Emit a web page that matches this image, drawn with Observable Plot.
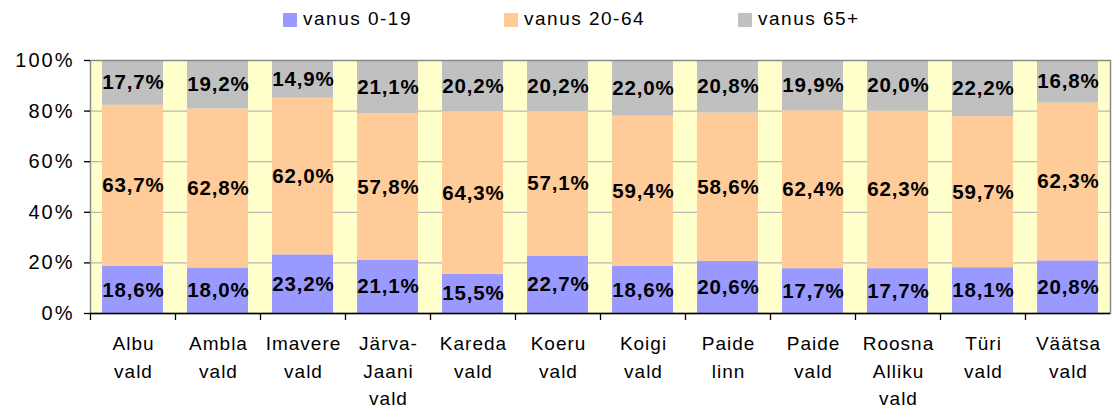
<!DOCTYPE html>
<html>
<head>
<meta charset="utf-8">
<script src="https://cdn.jsdelivr.net/npm/d3@7"></script>
<script src="https://cdn.jsdelivr.net/npm/@observablehq/plot@0.6"></script>
<style>
  html, body { margin: 0; padding: 0; background: white; }
  #wrap { position: relative; width: 1112px; height: 411px; font-family: "Liberation Sans", Arial, sans-serif; }
  #legend { position: relative; height: 38px; width: 1112px; }
  .item { position: absolute; top: 0; height: 38px; display: flex; align-items: center; font-size: 19px; letter-spacing: 1.5px; color: #000; }
  .sw { width: 14px; height: 14px; margin-right: 6px; margin-top: 2px; }
  #chart svg { display: block; }
  #chart g[aria-label="y-axis tick label"] text { letter-spacing: 2px; }
  #chart g[aria-label="x-axis tick label"] text { letter-spacing: 1px; }
  #chart g[aria-label="text"] text { letter-spacing: 0.8px; }
</style>
</head>
<body>
<div id="wrap">
  <div id="legend"></div>
  <div id="chart"></div>
</div>
<script>
const categories = ["Albu\nvald","Ambla\nvald","Imavere\nvald","Järva-\nJaani\nvald","Kareda\nvald","Koeru\nvald","Koigi\nvald","Paide\nlinn","Paide\nvald","Roosna\nAlliku\nvald","Türi\nvald","Väätsa\nvald"];
const groups = ["vanus 0-19", "vanus 20-64", "vanus 65+"];
const colors = ["#9999FF", "#FFCC99", "#C0C0C0"];
const age0_19  = [18.6, 18.0, 23.2, 21.1, 15.5, 22.7, 18.6, 20.6, 17.7, 17.7, 18.1, 20.8];
const age20_64 = [63.7, 62.8, 62.0, 57.8, 64.3, 57.1, 59.4, 58.6, 62.4, 62.3, 59.7, 62.3];
const age65    = [17.7, 19.2, 14.9, 21.1, 20.2, 20.2, 22.0, 20.8, 19.9, 20.0, 22.2, 16.8];
const yTicks = [0, 0.2, 0.4, 0.6, 0.8, 1];
const legendX = [283, 504, 738];

const series = [age0_19, age20_64, age65];
const data = [];
categories.forEach((c, i) => {
  groups.forEach((g, j) => data.push({cat: c, group: g, value: series[j][i]}));
});

// legend
const leg = document.getElementById("legend");
groups.forEach((g, j) => {
  const it = document.createElement("div");
  it.className = "item";
  it.style.left = legendX[j] + "px";
  it.innerHTML = `<div class="sw" style="background:${colors[j]}"></div><span>${g}</span>`;
  leg.appendChild(it);
});

const W = 1112, H = 373, mL = 90, mR = 2, mT = 22, mB = 98;
const step = (W - mL - mR) / categories.length;
const fmt = v => v.toFixed(1).replace(".", ",") + "%";

const chart = Plot.plot({
  width: W, height: H,
  marginLeft: mL, marginRight: mR, marginTop: mT, marginBottom: mB,
  style: {fontFamily: "'Liberation Sans', Arial, sans-serif", fontSize: "18px", background: "white", color: "#000"},
  x: {domain: categories, paddingInner: 0.28, paddingOuter: 0.14, label: null},
  y: {domain: [0, 1], label: null},
  color: {domain: groups, range: colors},
  marks: [
    Plot.frame({fill: "#FFFFCC", stroke: null}),
    Plot.ruleY(yTicks.slice(1, -1), {stroke: "#a8a8a8", strokeWidth: 1}),
    Plot.barY(data, Plot.stackY({x: "cat", y: "value", z: "group", fill: "group", offset: "normalize"})),
    Plot.text(data, Plot.stackY({x: "cat", y: "value", z: "group", offset: "normalize", text: d => fmt(d.value),
      fontSize: 20.5, fontWeight: "bold", fill: "#000", dx: 0.4})),
    Plot.frame({stroke: "#8a8a8a", strokeWidth: 1.5}),
    Plot.ruleX(categories, {x: d => d, y1: 0, y2: 0, insetBottom: -7, dx: -step / 2, stroke: "#000", strokeWidth: 1.3}),
    Plot.ruleY([0], {stroke: "#000", strokeWidth: 1.5}),
    Plot.ruleX([0], {frameAnchor: "left", stroke: "#000", strokeWidth: 1.5}),
    Plot.axisY({ticks: yTicks, tickFormat: d => Math.round(d * 100) + "%", tickSize: 6, tickPadding: 10,
      fontSize: 20, stroke: "#000", strokeWidth: 1.3}),
    Plot.axisX({tickSize: 0, tickPadding: 17, fontSize: 19, lineHeight: 1.45, dx: 0.5})
  ]
});
document.getElementById("chart").appendChild(chart);
</script>
</body>
</html>
